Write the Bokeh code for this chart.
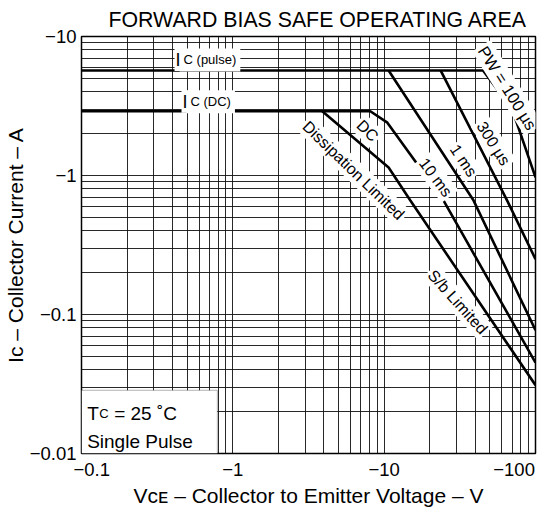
from bokeh.plotting import figure
from bokeh.models import FixedTicker, Label, BoxAnnotation
from bokeh.embed import file_html
from bokeh.resources import INLINE

# ---------------- data ----------------
x_ticks = [0.1, 1, 10, 100]
x_tick_labels = ["\u2007\u2007\u22120.1", "\u22121", "\u221210", "\u2212100\u2007\u2007"]
y_ticks = [0.01, 0.1, 1, 10]
y_tick_labels = ["\u22120.01", "\u22120.1", "\u22121", "\u221210"]
x_minor = [0.2, 0.3, 0.4, 0.5, 0.6, 0.7, 0.8, 0.9, 2, 3, 4, 5, 6, 7, 8, 9, 20, 30, 40, 50, 60, 70, 80, 90]
y_minor = [0.02, 0.03, 0.04, 0.05, 0.06, 0.07, 0.08, 0.09, 0.2, 0.3, 0.4, 0.5, 0.6, 0.7, 0.8, 0.9, 2, 3, 4, 5, 6, 7, 8, 9]

# PW = 100 us curve (includes the Ic(pulse) level line)
pw100_v = [0.1, 45, 70, 100]
pw100_i = [5.7, 5.7, 3.0, 0.97]
# 300 us
pw300_v = [23.6, 65, 100]
pw300_i = [5.7, 0.66, 0.25]
# 1 ms
ms1_v = [10.7, 39, 100]
ms1_i = [5.7, 0.66, 0.077]
# 10 ms (includes the Ic(DC) level line)
ms10_v = [0.1, 8.1, 10.5, 24.7, 100]
ms10_i = [2.9, 2.9, 2.4, 0.66, 0.045]
# DC
dc_v = [3.9, 10.7, 14.9, 100]
dc_i = [2.9, 1.14, 0.66, 0.031]

FONT = "Liberation Sans"
PI = 3.141592653589793

p = figure(x_axis_type="log", y_axis_type="log",
           x_range=(0.1, 100), y_range=(0.01, 10),
           width=555, height=515,
           min_border_left=81, min_border_right=20,
           min_border_top=35, min_border_bottom=62,
           output_backend="svg", toolbar_location=None,
           background_fill_color="white", border_fill_color="white")

p.title.text = "FORWARD BIAS SAFE OPERATING AREA"
p.title.align = "left"
p.title.offset = 27
p.title.text_font = FONT
p.title.text_font_size = "21.3px"
p.title.text_font_style = "normal"
p.title.text_color = "black"

xt = FixedTicker(ticks=x_ticks, minor_ticks=x_minor)
yt = FixedTicker(ticks=y_ticks, minor_ticks=y_minor)
p.xaxis.ticker = xt
p.yaxis.ticker = yt
p.xgrid.ticker = xt
p.ygrid.ticker = yt

xo = {}
for t, l in zip(x_ticks, x_tick_labels):
    xo[t] = l
yo = {}
for t, l in zip(y_ticks, y_tick_labels):
    yo[t] = l
p.xaxis.major_label_overrides = xo
p.yaxis.major_label_overrides = yo

for ax in (p.xaxis, p.yaxis):
    ax.axis_line_color = None
    ax.major_tick_line_color = None
    ax.minor_tick_line_color = None
    ax.major_tick_out = 0
    ax.minor_tick_out = 0
    ax.major_label_text_font = FONT
    ax.major_label_text_font_size = "18.5px"
    ax.major_label_text_color = "black"
    ax.axis_label_text_font = FONT
    ax.axis_label_text_font_size = "21px"
    ax.axis_label_text_font_style = "normal"
    ax.axis_label_text_color = "black"

p.xaxis.axis_label = "V\u1d04\u1d07 \u2013 Collector to Emitter Voltage \u2013 V"
p.yaxis.axis_label = "I\u1d04 \u2013 Collector Current \u2013 A"
p.xaxis.major_label_standoff = 5
p.xaxis.axis_label_standoff = 1
p.yaxis.major_label_standoff = 5
p.yaxis.axis_label_standoff = 0

for g in (p.xgrid, p.ygrid):
    g.grid_line_color = "#111111"
    g.grid_line_alpha = 0.9
    g.grid_line_width = 1
    g.minor_grid_line_color = "#111111"
    g.minor_grid_line_alpha = 0.9
    g.minor_grid_line_width = 1

p.outline_line_color = "black"
p.outline_line_width = 1.5

lw = 2.6
p.line(pw100_v, pw100_i, line_color="black", line_width=lw)
p.line(pw300_v, pw300_i, line_color="black", line_width=lw)
p.line(ms1_v, ms1_i, line_color="black", line_width=lw)
p.line(ms10_v, ms10_i, line_color="black", line_width=lw)
p.line(dc_v, dc_i, line_color="black", line_width=lw)


def lab(text, x, y, size, angle_deg=0.0, align="center", baseline="middle",
        xoff=0, bg=True, pad=2):
    kw = dict(x=x, y=y, text=text, text_font=FONT, text_font_size=size,
              text_color="black", text_align=align, text_baseline=baseline,
              angle=angle_deg * PI / 180.0, x_offset=xoff)
    if bg:
        kw.update(background_fill_color="white", background_fill_alpha=1.0, padding=pad)
    p.add_layout(Label(**kw))


# Ic(pulse), Ic(DC): subscript part first, the big "I" drawn on top
lab("C (pulse)", 0.412, 6.78, "13px", align="left", baseline="alphabetic", xoff=5, pad=4)
lab("I", 0.412, 6.78, "18px", align="left", baseline="alphabetic", pad=1)
lab("C (DC)", 0.458, 3.39, "13px", align="left", baseline="alphabetic", xoff=5, pad=4)
lab("I", 0.458, 3.39, "18px", align="left", baseline="alphabetic", pad=1)

# curve labels
lab("PW = 100 \u00b5s", 65.4, 4.27, "16.5px", -58)
lab("300 \u00b5s", 52.8, 1.70, "16px", -58)
lab("1 ms", 33.5, 1.28, "16px", -56)
lab("10 ms", 21.9, 0.968, "16px", -53)
lab("DC", 7.77, 2.10, "16px", -45)
lab("Dissipation Limited", 6.28, 1.086, "16px", -44)
lab("S/b Limited", 30.6, 0.123, "16px", -48)

# condition box
p.add_layout(BoxAnnotation(left=0.1, right=0.79, bottom=0.01, top=0.0285,
                           fill_color="white", fill_alpha=1.0,
                           line_color="black", line_width=1))
lab("T", 0.109, 0.0195, "19px", align="left", baseline="alphabetic", bg=False)
lab("C", 0.109, 0.0195, "13px", align="left", baseline="alphabetic", xoff=12, bg=False)
lab("= 25 \u02daC", 0.109, 0.0195, "19px", align="left", baseline="alphabetic", xoff=27, bg=False)
lab("Single Pulse", 0.109, 0.0121, "19px", align="left", baseline="alphabetic", bg=False)

open("out.html", "w").write(file_html(p, INLINE))
